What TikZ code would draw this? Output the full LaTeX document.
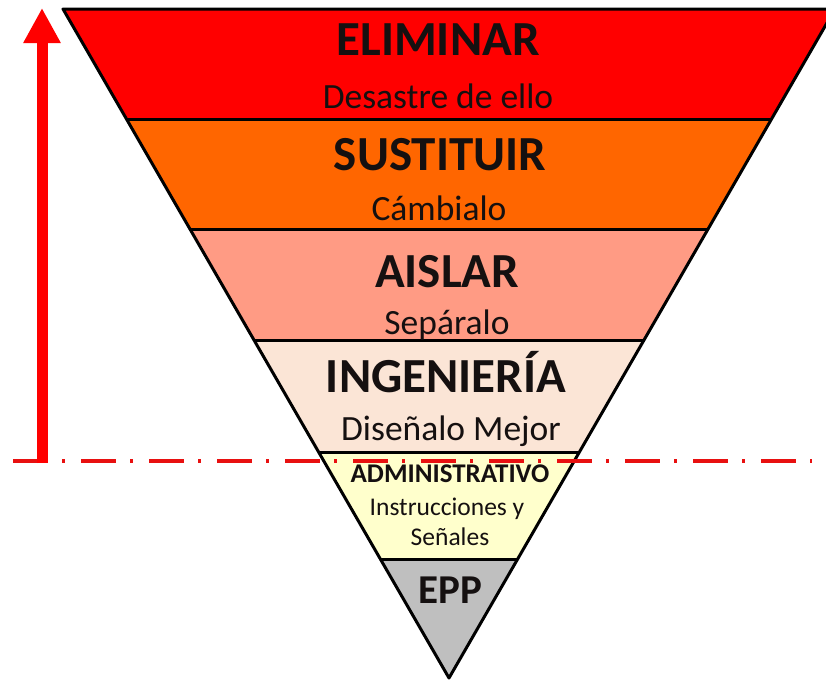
\documentclass[tikz,border=0pt]{standalone}
\usepackage{fontspec}
\setmainfont{Carlito}
\usetikzlibrary{calc,arrows.meta}
\definecolor{cRed}{HTML}{FF0000}
\definecolor{cOrange}{HTML}{FF6600}
\definecolor{cPink}{HTML}{FF9B84}
\definecolor{cCream}{HTML}{FBE5D6}
\definecolor{cYellow}{HTML}{FFFFCC}
\definecolor{cGray}{HTML}{BFBFBF}
\definecolor{cLine}{HTML}{E81010}
\definecolor{cText}{HTML}{151010}
\tikzset{
  band/.style={draw=black, line width=3pt, line join=round},
  title/.style={anchor=base, inner sep=0pt, text=cText, font=\bfseries\fontsize{49}{49}\selectfont},
  sub/.style={anchor=base, inner sep=0pt, text=cText, font=\fontsize{35.5}{35.5}\selectfont},
  smalltitle/.style={anchor=base, inner sep=0pt, text=cText, font=\bfseries\fontsize{27}{27}\selectfont},
  smallsub/.style={anchor=base, inner sep=0pt, text=cText, font=\fontsize{25.5}{25.5}\selectfont},
}
\begin{document}
\begin{tikzpicture}[x=1pt,y=-1pt]
\useasboundingbox (0,0) rectangle (826,681);
\fill[white] (0,0) rectangle (826,681);
% triangle corners
\coordinate (TL) at (63,9);
\coordinate (TR) at (835,9);
\coordinate (AP) at (449,678);
% band boundaries
\coordinate (L1) at ($(TL)!0.1659!(AP)$); \coordinate (R1) at ($(TR)!0.1659!(AP)$);
\coordinate (L2) at ($(TL)!0.3303!(AP)$); \coordinate (R2) at ($(TR)!0.3303!(AP)$);
\coordinate (L3) at ($(TL)!0.4948!(AP)$); \coordinate (R3) at ($(TR)!0.4948!(AP)$);
\coordinate (L4) at ($(TL)!0.6622!(AP)$); \coordinate (R4) at ($(TR)!0.6622!(AP)$);
\coordinate (L5) at ($(TL)!0.8236!(AP)$); \coordinate (R5) at ($(TR)!0.8236!(AP)$);
% bands
\fill[cRed] (TL) -- (TR) -- (R1) -- (L1) -- cycle;
\fill[cOrange] (L1) -- (R1) -- (R2) -- (L2) -- cycle;
\fill[cPink] (L2) -- (R2) -- (R3) -- (L3) -- cycle;
\fill[cCream] (L3) -- (R3) -- (R4) -- (L4) -- cycle;
\fill[cYellow] (L4) -- (R4) -- (R5) -- (L5) -- cycle;
\fill[cGray] (L5) -- (R5) -- (AP) -- cycle;
\draw[band] (TL) -- (TR) -- (AP) -- cycle;
\draw[band] (L1) -- (R1);
\draw[band] (L2) -- (R2);
\draw[band] (L3) -- (R3);
\draw[band] (L4) -- (R4);
\draw[band] (L5) -- (R5);
% texts
\node[title] (t1) at (438,55) {ELIMINAR};
\node[sub] (s1) at (438,108) {Desastre de ello};
\node[title] (t2) at (440,170) {SUSTITUIR};
\node[sub] (s2) at (439,220) {Cámbialo};
\node[title] (t3) at (447,287) {AISLAR};
\node[sub] (s3) at (447,334) {Sepáralo};
\node[title] (t4) at (446,392) {INGENIERÍA};
\node[sub] (s4) at (451,440) {Diseñalo Mejor};
\node[smalltitle] (t5) at (450,482) {ADMINISTRATIVO};
\node[smallsub] (s5a) at (447,515) {Instrucciones y};
\node[smallsub] (s5b) at (450,545) {Señales};
\node[title, font=\bfseries\fontsize{41}{41}\selectfont] (t6) at (450,603) {EPP};
% arrow and limit line
\coordinate (lineS) at (13,461);
\coordinate (lineE) at (812,461);
\coordinate (arB) at (42,463);
\coordinate (arT) at (42,8);
\draw[cLine, line width=4pt, dash pattern=on 35pt off 14pt on 3pt off 16pt] (lineS) -- (lineE);
\draw[cRed, line width=11pt, -{Triangle[width=35pt,length=35pt]}] (arB) -- (arT);
\end{tikzpicture}
\end{document}
